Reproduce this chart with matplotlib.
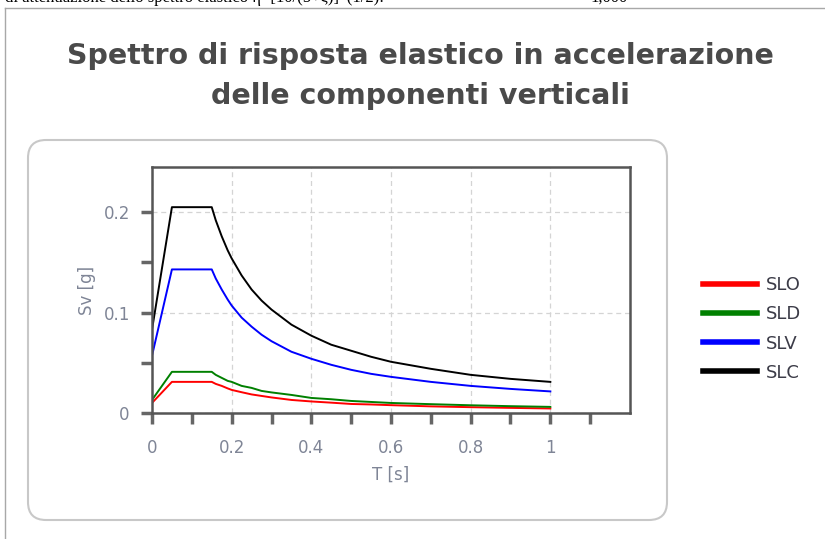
import matplotlib
matplotlib.use("Agg")
import matplotlib.pyplot as plt
from matplotlib.patches import FancyBboxPatch
from matplotlib.lines import Line2D

# periods [s]
T = [0.0, 0.05, 0.15, 0.16, 0.175, 0.19, 0.2, 0.225, 0.25, 0.275, 0.3, 0.35, 0.4,
     0.45, 0.5, 0.55, 0.6, 0.7, 0.8, 0.9, 1.0]

# vertical elastic spectra [g]
slo = [0.010, 0.031, 0.031, 0.029, 0.027, 0.0245, 0.023, 0.0207, 0.0185, 0.017, 0.0155,
       0.013, 0.0115, 0.0103, 0.009, 0.0085, 0.0078, 0.0066, 0.0058, 0.0051, 0.0045]
sld = [0.013, 0.041, 0.041, 0.038, 0.035, 0.032, 0.031, 0.027, 0.025, 0.022, 0.0205,
       0.018, 0.015, 0.0137, 0.012, 0.011, 0.010, 0.0088, 0.0077, 0.0068, 0.0061]
slv = [0.057, 0.143, 0.143, 0.134, 0.123, 0.113, 0.107, 0.095, 0.086, 0.078, 0.0715,
       0.061, 0.054, 0.048, 0.043, 0.039, 0.036, 0.031, 0.027, 0.024, 0.0215]
slc = [0.083, 0.205, 0.205, 0.192, 0.176, 0.162, 0.154, 0.137, 0.123, 0.112, 0.103,
       0.088, 0.077, 0.068, 0.062, 0.056, 0.051, 0.044, 0.038, 0.034, 0.031]

names = ["SLO", "SLD", "SLV", "SLC"]
colors = ["#ff0000", "#008000", "#0000ff", "#000000"]

W, H = 825, 539
fig = plt.figure(figsize=(W / 100, H / 100), dpi=100)
fig.patch.set_facecolor("white")

# page frame and the clipped line of text above it
fig.add_artist(Line2D([5 / W, 5 / W], [0, 1 - 8 / H], color="#a8a8a8", lw=1, zorder=-3))
fig.add_artist(Line2D([5 / W, 1], [1 - 8 / H, 1 - 8 / H], color="#a8a8a8", lw=1, zorder=-3))
fig.text(5 / W, 1 - 2 / H, "di attenuazione dello spettro elastico η=[10/(5+ξ)]^(1/2):",
         family="Liberation Serif", fontsize=12, va="baseline", color="black")
fig.text(590 / W, 1 - 2 / H, "1,000", family="Liberation Serif", fontsize=12,
         va="baseline", color="black")

# rounded panel behind the axes
panel = FancyBboxPatch((28, H - 520), 639, 380, boxstyle="round,pad=0,rounding_size=18",
                       transform=None, facecolor="white", edgecolor="#c8c8c8", lw=1.5,
                       zorder=-2)
fig.add_artist(panel)

fig.text(420 / W, 1 - 56 / H, "Spettro di risposta elastico in accelerazione",
         ha="center", va="center", fontsize=20.5, fontweight="bold", color="#4a4a4a")
fig.text(420 / W, 1 - 96 / H, "delle componenti verticali",
         ha="center", va="center", fontsize=20.5, fontweight="bold", color="#4a4a4a")

ax = fig.add_axes([152 / W, 1 - 413 / H, 478 / W, 246 / H])
ax.set_zorder(2)
for vals, name, c in zip([slo, sld, slv, slc], names, colors):
    ax.plot(T, vals, color=c, lw=1.4, label=name)

ax.set_xlim(0, 1.2)
ax.set_ylim(0, 0.245)
ax.set_xticks([0, 0.2, 0.4, 0.6, 0.8, 1.0])
ax.set_xticklabels(["0", "0.2", "0.4", "0.6", "0.8", "1"])
ax.set_xticks([0.1, 0.3, 0.5, 0.7, 0.9, 1.1], minor=True)
ax.set_yticks([0, 0.1, 0.2])
ax.set_yticklabels(["0", "0.1", "0.2"])
ax.set_yticks([0.05, 0.15], minor=True)
ax.grid(True, which="major", color="#d4d4d4", ls=(0, (4, 3)), lw=0.9)
for sp in ax.spines.values():
    sp.set_color("#555555")
    sp.set_linewidth(1.8)
ax.tick_params(which="both", direction="out", length=8, width=2.5, color="#666666",
               labelcolor="#7f8596", labelsize=12)
ax.tick_params(axis="x", pad=11)
ax.tick_params(axis="y", pad=8)
ax.set_xlabel("T [s]", color="#7f8596", fontsize=12, labelpad=6)
ax.set_ylabel("Sv [g]", color="#7f8596", fontsize=12, labelpad=5)

fig.legend(loc="center left", bbox_to_anchor=(694 / W, 1 - 329 / H), frameon=False,
           handlelength=3.0, handletextpad=0.5, labelspacing=0.62, fontsize=13,
           labelcolor="#3c3c48", borderpad=0)
for line in fig.legends[0].get_lines():
    line.set_linewidth(4)

fig.savefig("out.png", dpi=100)
